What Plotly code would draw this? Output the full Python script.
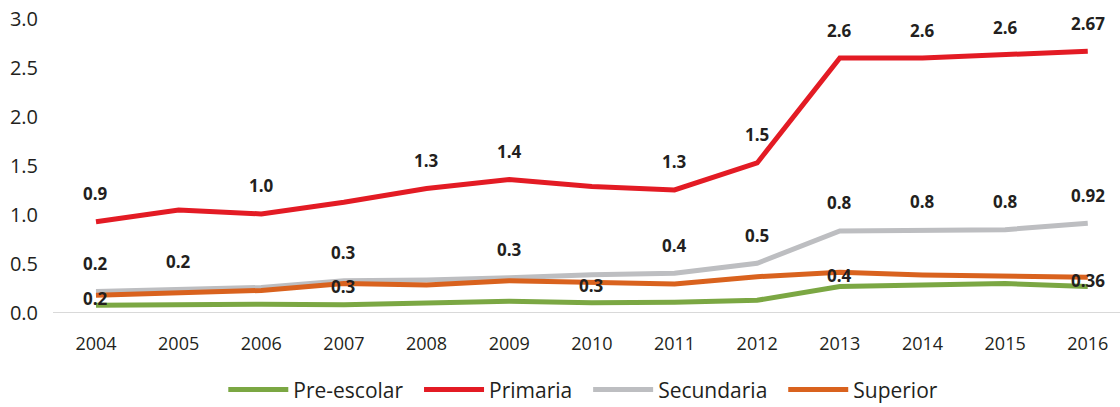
import plotly.graph_objects as go

years = [2004, 2005, 2006, 2007, 2008, 2009, 2010, 2011, 2012, 2013, 2014, 2015, 2016]
pre_escolar = [0.08, 0.09, 0.09, 0.085, 0.105, 0.12, 0.105, 0.11, 0.13, 0.27, 0.285, 0.30, 0.27]
primaria = [0.93, 1.05, 1.01, 1.13, 1.27, 1.36, 1.29, 1.255, 1.53, 2.60, 2.60, 2.63, 2.67]
secundaria = [0.22, 0.24, 0.26, 0.33, 0.337, 0.36, 0.39, 0.405, 0.507, 0.837, 0.847, 0.85, 0.915]
superior = [0.18, 0.21, 0.23, 0.30, 0.286, 0.33, 0.31, 0.296, 0.37, 0.415, 0.388, 0.37, 0.364]

primaria_labels = ["0.9", None, "1.0", None, "1.3", "1.4", None, "1.3", "1.5", "2.6", "2.6", "2.6", "2.67"]
secundaria_labels = ["0.2", "0.2", None, "0.3", None, "0.3", None, "0.4", "0.5", "0.8", "0.8", "0.8", "0.92"]
superior_labels = ["0.2", None, None, "0.3", None, None, "0.3", None, None, "0.4", None, None, "0.36"]

y_ticks = [0.0, 0.5, 1.0, 1.5, 2.0, 2.5, 3.0]
y_tick_text = ["0.0", "0.5", "1.0", "1.5", "2.0", "2.5", "3.0"]

FONT = "Open Sans"
TXT = "#231f20"
NB = "\u00a0\u00a0"

series = [
    ("Pre-escolar", pre_escolar, "#7ba743", NB),
    ("Primaria", primaria, "#e31b24", NB),
    ("Secundaria", secundaria, "#bdbec1", NB),
    ("Superior", superior, "#d9621e", ""),
]

fig = go.Figure()
for name, vals, col, pad in series:
    fig.add_trace(go.Scatter(x=years, y=vals, mode="lines", name=name + pad,
                             line=dict(color=col, width=5, shape="linear"),
                             hoverinfo="skip"))

annotations = []
def add_labels(labels, vals, yshift):
    for x, v, t in zip(years, vals, labels):
        if t is None:
            continue
        annotations.append(dict(x=x, y=v, text=t, showarrow=False, yshift=yshift,
                                font=dict(family=FONT, size=17, color=TXT, weight="bold"),
                                xanchor="center", yanchor="middle"))

add_labels(primaria_labels, primaria, 28)
add_labels(secundaria_labels, secundaria, 28)
add_labels(superior_labels, superior, -3)

fig.update_layout(
    width=1120, height=407,
    margin=dict(l=53, r=0, t=9, b=94, autoexpand=False),
    paper_bgcolor="white", plot_bgcolor="white",
    font=dict(family=FONT, size=18, color=TXT),
    showlegend=True,
    legend=dict(orientation="h", x=0.497, xanchor="center", y=-0.253, yanchor="middle",
                font=dict(family=FONT, size=21, color=TXT), itemwidth=60,
                traceorder="normal"),
    annotations=annotations,
    xaxis=dict(range=[2003.48, 2016.39], tickmode="array", tickvals=years,
               ticktext=[str(y) for y in years], showgrid=False, zeroline=False,
               showline=False, ticks="", ticklabelstandoff=18, automargin=False,
               tickfont=dict(family=FONT, size=18, color=TXT)),
    yaxis=dict(range=[0, 3.1], tickmode="array", tickvals=y_ticks, ticktext=y_tick_text,
               showgrid=False, zeroline=False, showline=False, ticks="",
               ticklabelstandoff=14, automargin=False,
               tickfont=dict(family=FONT, size=20, color=TXT)),
    shapes=[dict(type="line", xref="paper", yref="y", x0=0, x1=1, y0=0, y1=0,
                 line=dict(color="#d9d9d9", width=2), layer="below")],
)

fig.write_html("out.html", config={"displayModeBar": False},
               post_script="document.body.style.margin='0';document.body.style.overflow='hidden';")
